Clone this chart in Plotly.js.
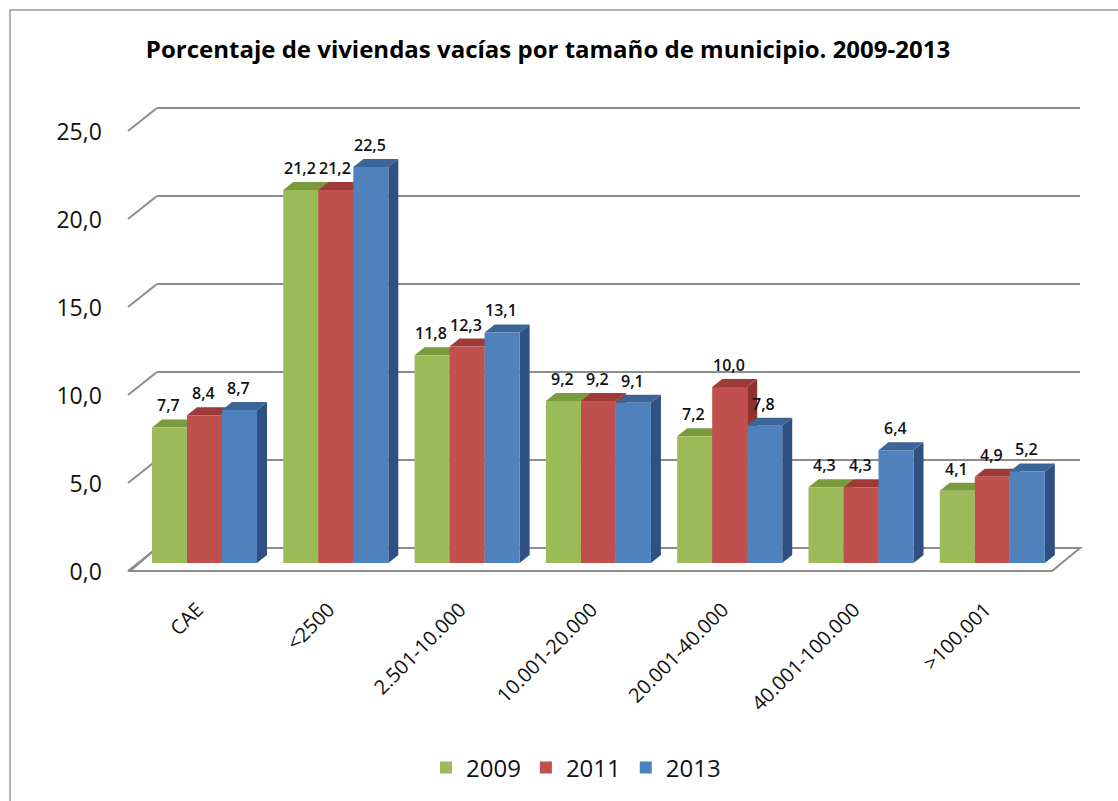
<!DOCTYPE html>
<html>
<head>
<meta charset="utf-8">
<script src="https://cdn.plot.ly/plotly-3.0.1.min.js"></script>
<style>html,body{margin:0;padding:0;background:#fff;}#chart{width:1118px;height:801px;}</style>
</head>
<body>
<div id="chart"></div>
<script>
// ---- data ----
const categories = ["CAE", "<2500", "2.501-10.000", "10.001-20.000", "20.001-40.000", "40.001-100.000", ">100.001"];
const years = ["2009", "2011", "2013"];
const v2009 = [7.7, 21.2, 11.8, 9.2, 7.2, 4.3, 4.1];
const v2011 = [8.4, 21.2, 12.3, 9.2, 10.0, 4.3, 4.9];
const v2013 = [8.7, 22.5, 13.1, 9.1, 7.8, 6.4, 5.2];
const yTicks = [0, 5, 10, 15, 20, 25];

// ---- styles ----
const series = [v2009, v2011, v2013];
const frontCol = ["#9BBB59", "#C0504D", "#4F81BD"];
const topCol = ["#7A9A3E", "#9E3A37", "#3A6596"];
const sideCol = ["#6E8C34", "#8E3330", "#2E5182"];
const W = 1118, H = 801;
const px = x => x / W;
const py = y => 1 - y / H;
const FONT = "Open Sans, Noto Sans, sans-serif";

const xIdx = categories.map((c, i) => i);
const groupW = 0.8, barW = groupW / 3;
const depthX = 10 / 131.3, depthY = 8 / 17.6;     // bar depth in data units
const wallY = 23 / 17.6;                            // wall depth in back-axis units

const traces = series.map((vals, j) => ({
  type: "bar", x: xIdx, y: vals, name: years[j],
  xaxis: "x2", yaxis: "y2",
  marker: { color: frontCol[j], line: { width: 0 } },
  hoverinfo: "skip"
}));

const shapes = [];
// outer frame
shapes.push({ type: "rect", xref: "paper", yref: "paper", x0: px(10), x1: px(1135), y0: py(10), y1: py(820),
  line: { color: "#9a9a9a", width: 1.5 }, fillcolor: "rgba(0,0,0,0)", layer: "below" });
// floor slab
shapes.push({ type: "path", xref: "paper", yref: "y", layer: "below",
  path: `M ${px(130)},${-wallY} L ${px(1052)},${-wallY} L ${px(1080)},0 L ${px(157)},0 Z`,
  line: { color: "#8c8c8c", width: 2 }, fillcolor: "#ffffff" });
// diagonal tick connectors from front axis to back wall
yTicks.forEach(v => {
  shapes.push({ type: "line", xref: "paper", yref: "y", layer: "below",
    x0: px(128), y0: v - wallY, x1: px(157), y1: v, line: { color: "#8c8c8c", width: 2 } });
});
// 3D faces of bars
series.forEach((vals, j) => {
  vals.forEach((v, i) => {
    const xl = i - groupW / 2 + j * barW, xr = xl + barW;
    shapes.push({ type: "path", xref: "x2", yref: "y2", layer: "between",
      path: `M ${xr},0 L ${xr + depthX},${depthY} L ${xr + depthX},${v + depthY} L ${xr},${v} Z`,
      fillcolor: sideCol[j], line: { width: 0 } });
    shapes.push({ type: "path", xref: "x2", yref: "y2", layer: "between",
      path: `M ${xl},${v} L ${xl + depthX},${v + depthY} L ${xr + depthX},${v + depthY} L ${xr},${v} Z`,
      fillcolor: topCol[j], line: { width: 0 } });
  });
});

// value labels
const annotations = [];
series.forEach((vals, j) => {
  vals.forEach((v, i) => {
    const xc = i - groupW / 2 + (j + 0.5) * barW;
    annotations.push({ xref: "x2", yref: "y2", x: xc, y: v, yshift: 22, xshift: -1,
      text: v.toFixed(1).replace(".", ","), showarrow: false,
      font: { family: FONT, size: 16, color: "#111", weight: 600 } });
  });
});

const layout = {
  width: W, height: H,
  margin: { l: 0, r: 0, t: 0, b: 0 },
  paper_bgcolor: "#fff", plot_bgcolor: "rgba(0,0,0,0)",
  separators: ",.",
  title: { text: "<b>Porcentaje de viviendas vacías por tamaño de municipio. 2009-2013</b>",
    x: px(548), xanchor: "center", y: py(50), yanchor: "middle", xref: "paper", yref: "paper",
    font: { family: FONT, size: 24, color: "#000" } },
  // back wall (gridlines)
  xaxis: { domain: [px(157), px(1080)], range: [0, 1], showgrid: false, showticklabels: false,
    zeroline: false, showline: false, ticks: "" },
  yaxis: { domain: [py(548 + 1.6 * 17.6), py(548 - 25.2 * 17.6)], range: [-1.6, 25.2], tickvals: yTicks, showgrid: true,
    gridcolor: "#8c8c8c", gridwidth: 2, showticklabels: false, zeroline: false, showline: false, ticks: "" },
  // front (bars)
  xaxis2: { domain: [px(204.5 - 0.5 * 131.3), px(204.5 + 6.5 * 131.3)], range: [-0.5, 6.5], anchor: "y2",
    tickvals: xIdx, ticktext: categories, tickangle: -45, showgrid: false, zeroline: false, showline: false,
    ticks: "", ticklabelstandoff: 30, ticklabelshift: -7, tickfont: { family: FONT, size: 20, color: "#111" } },
  yaxis2: { domain: [py(563), py(123)], range: [0, 25], anchor: "x2", tickvals: yTicks, tickformat: ".1f",
    showgrid: false, zeroline: false, showline: false, ticks: "", ticklabelshift: 9, ticklabelstandoff: 36,
    tickfont: { family: FONT, size: 23, color: "#111" } },
  barmode: "group", bargap: 0.2, bargroupgap: 0,
  showlegend: true,
  legend: { orientation: "h", x: px(576), xanchor: "center", y: py(768), yanchor: "middle",
    font: { family: FONT, size: 24, color: "#111" }, itemwidth: 30, traceorder: "normal" },
  shapes: shapes, annotations: annotations
};

Plotly.newPlot("chart", traces, layout, { displayModeBar: false, staticPlot: true });
</script>
</body>
</html>
